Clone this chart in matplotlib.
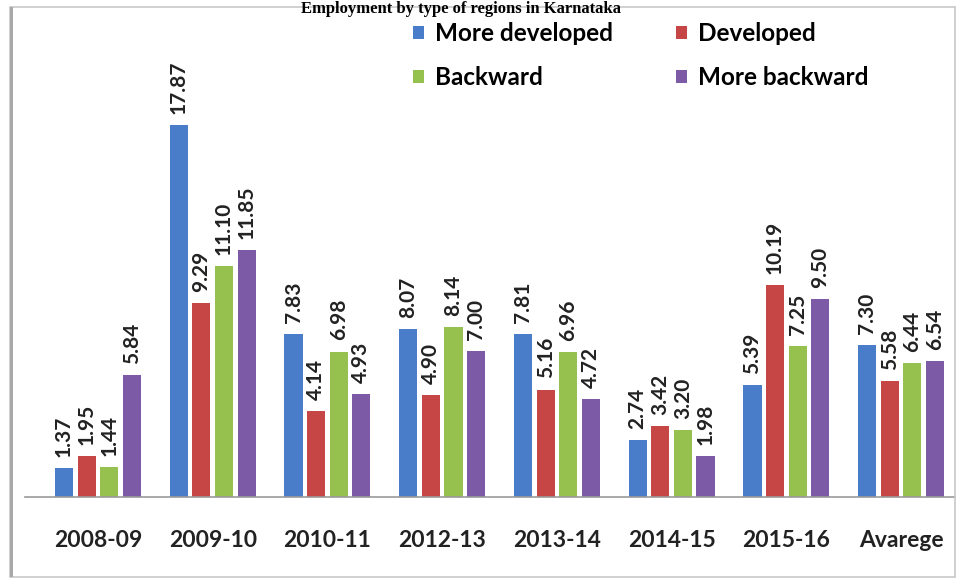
import matplotlib.pyplot as plt
import numpy as np
from matplotlib.patches import Rectangle

# data
years = ["2008-09", "2009-10", "2010-11", "2012-13", "2013-14", "2014-15", "2015-16", "Avarege"]
more_developed = [1.37, 17.87, 7.83, 8.07, 7.81, 2.74, 5.39, 7.30]
developed = [1.95, 9.29, 4.14, 4.90, 5.16, 3.42, 10.19, 5.58]
backward = [1.44, 11.10, 6.98, 8.14, 6.96, 3.20, 7.25, 6.44]
more_backward = [5.84, 11.85, 4.93, 7.00, 4.72, 1.98, 9.50, 6.54]

series = [
    ("More developed", more_developed, "#4a7dc9"),
    ("Developed", developed, "#c64545"),
    ("Backward", backward, "#97c14f"),
    ("More backward", more_backward, "#7d5aa6"),
]

plt.rcParams["font.family"] = ["Lato", "DejaVu Sans"]

fig = plt.figure(figsize=(9.6, 5.82), dpi=100)
fig.patch.set_facecolor("white")

# outer frame of the chart area
fig.patches.append(Rectangle((10 / 960, 5 / 582), 945 / 960, 570 / 582,
                             transform=fig.transFigure, fill=False,
                             edgecolor="#c8c8c8", linewidth=1.2))
fig.patches.append(Rectangle((10 / 960, 5 / 582), 2.5 / 960, 570 / 582,
                             transform=fig.transFigure, facecolor="#a8a8a8",
                             edgecolor="none"))

# title sits right at the top edge
fig.text(0.48, 1 - 13 / 582, "Employment by type of regions in Karnataka",
         ha="center", va="baseline", family="Liberation Serif",
         weight="bold", fontsize=12)

ax = fig.add_axes([25 / 960, 85 / 582, 930 / 960, 477 / 582])
x = np.arange(len(years))
pitch = 0.197
width = 0.158

handles = []
for i, (name, vals, color) in enumerate(series):
    pos = x + (i - 1.5) * pitch
    bars = ax.bar(pos, vals, width, color=color, label=name, zorder=2)
    handles.append(bars)
    for b, v in zip(bars, vals):
        ax.annotate(f"{v:.2f}", (b.get_x() + b.get_width() / 2, v),
                    xytext=(0, 8), textcoords="offset points",
                    rotation=90, ha="center", va="bottom",
                    fontsize=15, weight="bold", color="#222222")

ax.set_xlim(-0.636, 7.47)
ax.set_ylim(0, 22.9)
ax.set_xticks(x)
ax.set_xticklabels(years, fontsize=16.5, weight="bold", color="#222222")
ax.tick_params(axis="x", length=0, pad=24)
ax.set_yticks([])
for s in ["top", "right", "left"]:
    ax.spines[s].set_visible(False)
ax.spines["bottom"].set_color("#999999")
ax.spines["bottom"].set_linewidth(1.2)

# legend fills row by row in the reference
order = [0, 2, 1, 3]
ax.legend([handles[k] for k in order], [series[k][0] for k in order],
          loc="upper left", bbox_to_anchor=(0.417, 0.995), ncol=2, frameon=False,
          prop={"size": 17.5, "weight": "bold"}, handlelength=0.45,
          handleheight=0.45, handletextpad=0.45, columnspacing=2.6,
          labelspacing=0.85, borderpad=0, borderaxespad=0)

fig.savefig("out.png", dpi=100)
